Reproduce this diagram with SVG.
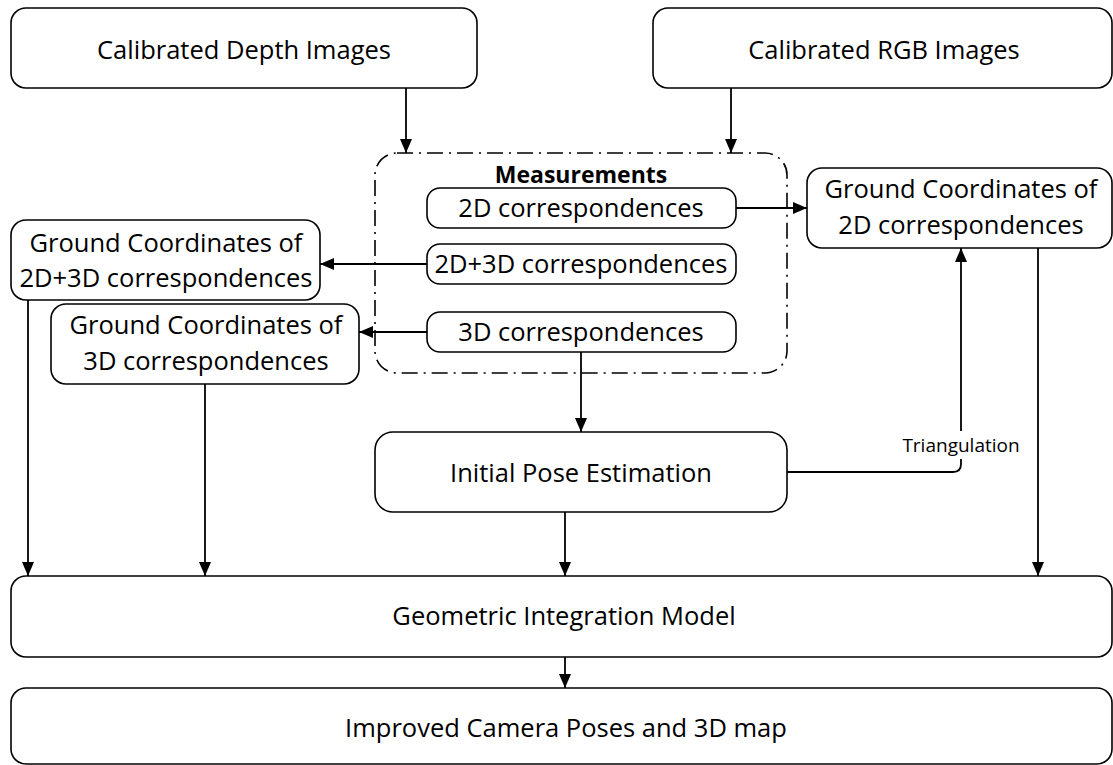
<svg xmlns="http://www.w3.org/2000/svg" width="1113" height="765" viewBox="0 0 1113 765">
  <style>
    .box { fill: #ffffff; stroke: #000000; stroke-width: 1.6; }
    .group { fill: none; stroke: #000000; stroke-width: 1.6; stroke-dasharray: 16 6 2 6; }
    .lbl { font-family: "Open Sans", "Liberation Sans", sans-serif; font-size: 25.5px; fill: #000000; text-anchor: middle; }
    .title { font-family: "Open Sans", "Liberation Sans", sans-serif; font-size: 23px; font-weight: bold; fill: #000000; text-anchor: middle; }
    .small { font-family: "Open Sans", "Liberation Sans", sans-serif; font-size: 19px; fill: #000000; text-anchor: middle; }
    .link { fill: none; stroke: #000000; stroke-width: 1.8; }
  </style>
  <defs>
    <marker id="arrow" markerUnits="userSpaceOnUse" markerWidth="14" markerHeight="12" refX="14" refY="6" orient="auto">
      <path d="M0,0 L14,6 L0,12 z" fill="#000000"/>
    </marker>
  </defs>

  <rect width="1113" height="765" fill="#ffffff"/>

  <!-- connectors -->
  <g id="connectors">
    <line class="link" x1="406" y1="88" x2="406" y2="153" marker-end="url(#arrow)"/>
    <line class="link" x1="731" y1="88" x2="731" y2="153" marker-end="url(#arrow)"/>
    <line class="link" x1="736" y1="208" x2="807" y2="208" marker-end="url(#arrow)"/>
    <line class="link" x1="427" y1="264" x2="320" y2="264" marker-end="url(#arrow)"/>
    <line class="link" x1="427" y1="332" x2="359" y2="332" marker-end="url(#arrow)"/>
    <line class="link" x1="581" y1="352" x2="581" y2="432" marker-end="url(#arrow)"/>
    <path class="link" d="M787,472 H953 Q961,472 961,464 V248" marker-end="url(#arrow)"/>
    <line class="link" x1="28" y1="300" x2="28" y2="576" marker-end="url(#arrow)"/>
    <line class="link" x1="205" y1="384" x2="205" y2="576" marker-end="url(#arrow)"/>
    <line class="link" x1="565" y1="512" x2="565" y2="576" marker-end="url(#arrow)"/>
    <line class="link" x1="1038" y1="248" x2="1038" y2="576" marker-end="url(#arrow)"/>
    <line class="link" x1="565" y1="657" x2="565" y2="688" marker-end="url(#arrow)"/>
    <g id="triangulation-label">
      <rect x="900" y="431" width="122" height="28" fill="#ffffff"/>
      <text class="small" x="961" y="452">Triangulation</text>
    </g>
  </g>

  <g id="depth-images">
    <rect class="box" x="11" y="8" width="466" height="80" rx="15"/>
    <text class="lbl" x="244" y="59">Calibrated Depth Images</text>
  </g>

  <g id="rgb-images">
    <rect class="box" x="653" y="8" width="459" height="80" rx="15"/>
    <text class="lbl" x="884" y="59">Calibrated RGB Images</text>
  </g>

  <g id="measurements">
    <rect class="group" x="375" y="153" width="412" height="220" rx="22"/>
    <text class="title" x="581" y="183">Measurements</text>
  </g>

  <g id="corr-2d">
    <rect class="box" x="427" y="188" width="309" height="40" rx="13"/>
    <text class="lbl" x="581" y="217">2D correspondences</text>
  </g>

  <g id="corr-2d3d">
    <rect class="box" x="427" y="244" width="309" height="40" rx="13"/>
    <text class="lbl" x="581" y="273">2D+3D correspondences</text>
  </g>

  <g id="corr-3d">
    <rect class="box" x="427" y="312" width="309" height="40" rx="13"/>
    <text class="lbl" x="581" y="341">3D correspondences</text>
  </g>

  <g id="ground-2d">
    <rect class="box" x="807" y="168" width="305" height="80" rx="15"/>
    <text class="lbl" x="961" y="198">Ground Coordinates of</text>
    <text class="lbl" x="961" y="234">2D correspondences</text>
  </g>

  <g id="ground-2d3d">
    <rect class="box" x="11" y="220" width="309" height="80" rx="15"/>
    <text class="lbl" x="166" y="252">Ground Coordinates of</text>
    <text class="lbl" x="166" y="287">2D+3D correspondences</text>
  </g>

  <g id="ground-3d">
    <rect class="box" x="51" y="304" width="308" height="80" rx="15"/>
    <text class="lbl" x="206" y="334">Ground Coordinates of</text>
    <text class="lbl" x="206" y="370">3D correspondences</text>
  </g>

  <g id="initial-pose">
    <rect class="box" x="375" y="432" width="412" height="80" rx="18"/>
    <text class="lbl" x="581" y="482">Initial Pose Estimation</text>
  </g>

  <g id="integration-model">
    <rect class="box" x="11" y="576" width="1101" height="81" rx="15"/>
    <text class="lbl" x="564" y="625">Geometric Integration Model</text>
  </g>

  <g id="improved-poses">
    <rect class="box" x="11" y="688" width="1101" height="76" rx="15"/>
    <text class="lbl" x="566" y="737">Improved Camera Poses and 3D map</text>
  </g>
</svg>
